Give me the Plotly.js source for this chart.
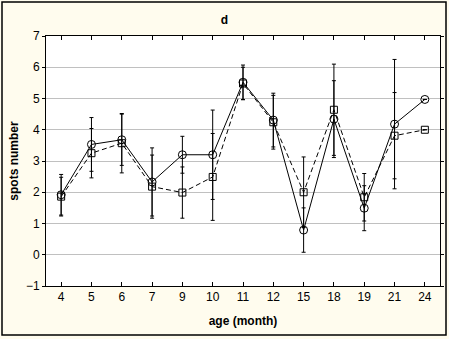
<!DOCTYPE html>
<html>
<head>
<meta charset="utf-8">
<script src="https://cdn.plot.ly/plotly-3.0.1.min.js"></script>
<style>html,body{margin:0;padding:0;background:#fffcee;}</style>
</head>
<body>
<div id="chart" style="width:449px;height:339px;"></div>
<script>
// Data
var ageLabels = ['4','5','6','7','9','10','11','12','15','18','19','21','24'];
var seriesSolid = [1.92, 3.53, 3.68, 2.33, 3.20, 3.20, 5.52, 4.31, 0.79, 4.34, 1.49, 4.18, 4.97];
var errSolid    = [0.65, 0.86, 0.82, 1.09, 0.59, 1.43, 0.55, 0.86, 0.71, 1.23, 0.72, 2.07, 0];
var seriesDashed = [1.86, 3.25, 3.57, 2.18, 1.99, 2.49, 5.48, 4.24, 2.00, 4.64, 1.84, 3.81, 4.00];
var errDashed    = [0.62, 0.79, 0.95, 1.01, 0.82, 1.39, 0.52, 0.86, 1.13, 1.46, 0.76, 1.38, 0];
var yTicks = [-1, 0, 1, 2, 3, 4, 5, 6, 7];

var traces = [
  {
    x: ageLabels, y: seriesDashed, type: 'scatter', mode: 'lines+markers',
    line: {color: '#000', width: 1, dash: '5px,3px'},
    marker: {symbol: 'square-open', size: 7, color: '#000', line: {width: 1, color: '#000'}},
    error_y: {type: 'data', array: errDashed, visible: true, color: '#000', thickness: 1, width: 2},
    cliponaxis: false
  },
  {
    x: ageLabels, y: seriesSolid, type: 'scatter', mode: 'lines+markers',
    line: {color: '#000', width: 1},
    marker: {symbol: 'circle-open', size: 8, color: '#000', line: {width: 1, color: '#000'}},
    error_y: {type: 'data', array: errSolid, visible: true, color: '#000', thickness: 1, width: 2},
    cliponaxis: false
  }
];

var layout = {
  width: 449, height: 339,
  margin: {l: 46, r: 9, t: 36, b: 53},
  paper_bgcolor: '#fffcee',
  plot_bgcolor: '#ffffff',
  showlegend: false,
  font: {family: 'Liberation Sans, Arial, sans-serif', size: 12, color: '#000'},
  title: {text: '<b>d</b>', font: {size: 12, color: '#000'}, xref: 'container', x: 0.5, xanchor: 'center', yref: 'container', y: 1 - 20/339, yanchor: 'middle'},
  xaxis: {
    type: 'category', categoryorder: 'array', categoryarray: ageLabels,
    range: [-0.5, 12.5],
    showline: true, linecolor: '#000', linewidth: 1, mirror: 'ticks',
    ticks: 'inside', ticklen: 4, tickcolor: '#000',
    showgrid: false, zeroline: false,
    tickfont: {size: 12},
    title: {text: '<b>age (month)</b>', font: {size: 12}, standoff: 13}
  },
  yaxis: {
    range: [-1, 7], tickvals: yTicks,
    showline: true, linecolor: '#000', linewidth: 1, mirror: 'ticks',
    ticks: 'outside', ticklen: 3, tickcolor: '#000',
    showgrid: true, gridcolor: '#c0c0c0', gridwidth: 1, zeroline: false,
    tickfont: {size: 12},
    title: {text: '<b>spots number</b>', font: {size: 12}, standoff: 4}
  },
  shapes: [
    {type: 'rect', xref: 'paper', yref: 'paper',
     x0: (2 - 46)/394, x1: (446 - 46)/394, y0: (286 - 335)/250, y1: (286 - 2)/250,
     line: {color: '#000', width: 1.5}, fillcolor: 'rgba(0,0,0,0)', layer: 'below'}
  ]
};

Plotly.newPlot('chart', traces, layout, {displayModeBar: false, staticPlot: true});
</script>
</body>
</html>
